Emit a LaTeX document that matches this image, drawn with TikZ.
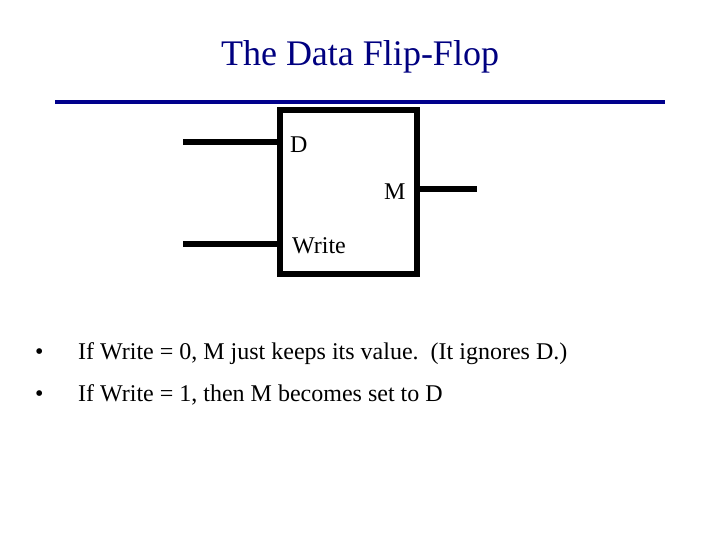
\documentclass[tikz,border=0pt]{standalone}
\usepackage{fontspec}
\setmainfont{Liberation Serif}
\definecolor{navy}{RGB}{0,0,128}
\definecolor{rulecol}{RGB}{0,0,140}
\tikzset{
  wire/.style={line width=6pt},
  lbl/.style={anchor=base west, inner sep=0pt, font=\fontsize{24}{28}\selectfont},
  bodytext/.style={anchor=base west, inner sep=0pt, font=\fontsize{24}{28}\selectfont},
}
\begin{document}
\begin{tikzpicture}[x=1pt,y=-1pt]
\useasboundingbox (0,0) rectangle (720,540);
\node[anchor=base, inner sep=0pt, text=navy, font=\fontsize{36}{40}\selectfont] (title) at (360,66) {The Data Flip-Flop};
\coordinate (rl) at (55,102);
\coordinate (rr) at (665,102);
\draw[rulecol, line width=4pt] (rl) -- (rr);
\node[draw, line width=6pt, minimum width=137pt, minimum height=164pt, inner sep=0pt] (box) at (348.5,192) {};
\coordinate (din) at (183,142);
\coordinate (win) at (183,244);
\coordinate (mout) at (477,189);
\draw[wire] (din) -- (din -| box.west);
\draw[wire] (win) -- (win -| box.west);
\draw[wire] (mout -| box.east) -- (mout);
\node[lbl] (dl) at (290,153) {D};
\node[lbl] (ml) at (384,200) {M};
\node[lbl] (wl) at (292,253) {Write};
\node[bodytext] (b1) at (35,359) {\textbullet};
\node[bodytext] (t1) at (78,359) {If Write = 0, M just keeps its value.\ \ (It ignores D.)};
\node[bodytext] (b2) at (35,401) {\textbullet};
\node[bodytext] (t2) at (78,401) {If Write = 1, then M becomes set to D};
\end{tikzpicture}
\end{document}
